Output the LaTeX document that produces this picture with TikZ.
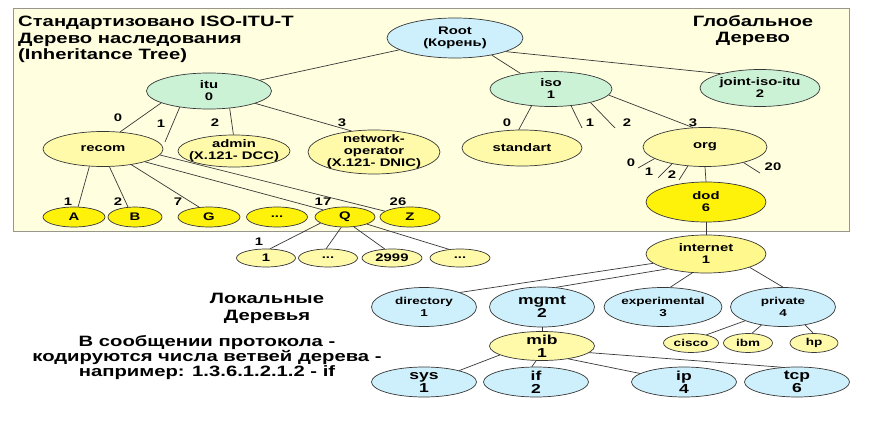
\documentclass[tikz,border=0pt]{standalone}
\usepackage{fontspec}
\setmainfont{Liberation Sans}[FakeStretch=1.35]
\usetikzlibrary{shapes.geometric}
\definecolor{boxcolor}{RGB}{255,255,224}
\definecolor{boxborder}{RGB}{150,150,140}
\definecolor{cyancolor}{RGB}{206,240,252}
\definecolor{mintcolor}{RGB}{204,242,214}
\definecolor{palecolor}{RGB}{255,250,170}
\definecolor{netcolor}{RGB}{255,248,140}
\definecolor{goldcolor}{RGB}{255,242,10}
\definecolor{linecolor}{RGB}{55,55,55}

\begin{document}
\begin{tikzpicture}[x=1pt, y=-1pt,
    % OID nodes - ellipses of fixed size, text as centre label
    oid/.style={ellipse, draw=linecolor, line width=0.7pt, inner sep=0pt},
    dims/.style 2 args={minimum width=#1pt, minimum height=#2pt},
    every label/.style={align=center, inner sep=0pt, font=\bfseries\fontsize{11}{12}\selectfont},
    txtsmall/.style={font=\bfseries\fontsize{10}{11.5}\selectfont},
    txtbig/.style={font=\bfseries\fontsize{13}{13}\selectfont},
    % branch numbers
    num/.style={font=\bfseries\fontsize{11}{12}\selectfont, inner sep=0pt},
    % connectors
    link/.style={draw=linecolor, line width=0.7pt},
    % free text
    caption/.style={font=\bfseries\fontsize{15}{16.5}\selectfont, inner sep=0pt}
]

\fill[white] (0,0) rectangle (873,422);
\useasboundingbox (0,0) rectangle (873,422);

% ===== STANDARD TREE FRAME =====
\draw[draw=boxborder, line width=1pt, fill=boxcolor] (13,9) rectangle (849,232);

\node[caption, anchor=north west, align=left] (title) at (18,16) {
    Стандартизовано ISO-ITU-T\\
    Дерево наследования\\
    (Inheritance Tree)
};
\node[caption, anchor=north, align=center] (global) at (753,15) {
    Глобальное\\
    Дерево
};

% ===== TOP LEVEL =====
\node[oid, fill=cyancolor, dims={136}{40}, label={center:{Root\\(Корень)}}] (root) at (455,38) {};
\node[oid, fill=mintcolor, dims={125}{36}, label={center:{itu\\0}}] (itu) at (209,91) {};
\node[oid, fill=mintcolor, dims={122}{35}, label={center:{iso\\1}}] (iso) at (551,89) {};
\node[oid, fill=mintcolor, dims={120}{37}, label={center:{joint-iso-itu\\2}}] (joint) at (760,88) {};

\draw[link] (root.192) -- (itu.12);
\draw[link] (root.335) -- (iso.153);
\draw[link] (root.345) -- (joint.160);

% ===== ITU BRANCH =====
\node[oid, fill=palecolor, dims={120}{35}, label={center:recom}] (recom) at (103,149) {};
\node[oid, fill=palecolor, dims={112}{32}, label={center:{admin\\(X.121- DCC)}}] (admin) at (234,151) {};
\node[oid, fill=palecolor, dims={132}{44}, label={center:{network-\\operator\\(X.121- DNIC)}}] (netop) at (374,152) {};
\coordinate (itu-s1) at (165,142);

\draw[link] (itu.194) -- (recom.45);
\draw[link] (itu.209) -- (itu-s1);
\draw[link] (itu.320) -- (admin.92);
\draw[link] (itu.345) -- (netop.137);

\node[num] (n-itu-0) at (118,118) {0};
\node[num] (n-itu-1) at (161,124) {1};
\node[num] (n-itu-2) at (215,123) {2};
\node[num] (n-itu-3) at (342,123) {3};

% recom leaves
\node[oid, fill=goldcolor, dims={62}{20}, label={center:A}] (A) at (74,217) {};
\node[oid, fill=goldcolor, dims={54}{20}, label={center:B}] (B) at (135,217) {};
\node[oid, fill=goldcolor, dims={62}{20}, label={center:G}] (G) at (209,217) {};
\node[oid, fill=goldcolor, dims={61}{20}, label={center:...}] (gap) at (277,217) {};
\node[oid, fill=goldcolor, dims={60}{20}, label={center:Q}] (Q) at (345,217) {};
\node[oid, fill=goldcolor, dims={60}{20}, label={center:Z}] (Z) at (410,217) {};

\draw[link] (recom.232) -- (A.68);
\draw[link] (recom.290) -- (B.125);
\draw[link] (recom.331) -- (G.135);
\draw[link] (recom.343) -- (Q.162);
\draw[link] (recom.354) -- (Z.167);

\node[num] (n-rec-1) at (68,202) {1};
\node[num] (n-rec-2) at (118,202) {2};
\node[num] (n-rec-7) at (178,202) {7};
\node[num] (n-rec-17) at (323,202) {17};
\node[num] (n-rec-26) at (398,202) {26};

% Q leaves
\node[oid, fill=palecolor, dims={59}{18}, label={center:1}] (q1) at (266,258) {};
\node[oid, fill=palecolor, dims={59}{18}, label={center:...}] (qgap) at (328,258) {};
\node[oid, fill=palecolor, dims={60}{18}, label={center:2999}] (q2999) at (392,258) {};
\node[oid, fill=palecolor, dims={60}{18}, label={center:...}] (qmore) at (460,258) {};

\draw[link] (Q.194) -- (q1.66);
\draw[link] (Q.250) -- (qgap.101);
\draw[link] (Q.312) -- (q2999.129);
\draw[link] (Q.342) -- (qmore.142);

\node[num] (n-q-1) at (259,242) {1};

% ===== ISO BRANCH =====
\node[oid, fill=palecolor, dims={120}{36}, label={center:standart}] (standart) at (522,148) {};
\node[oid, fill=palecolor, dims={124}{39}, label={center:org}] (org) at (705,147) {};
\coordinate (iso-s1) at (582,128);
\coordinate (iso-s2) at (615,128);

\draw[link] (iso.221) -- (standart.100);
\draw[link] (iso.320) -- (iso-s1);
\draw[link] (iso.341) -- (iso-s2);
\draw[link] (iso.354) -- (org.122);

\node[num] (n-iso-0) at (507,123) {0};
\node[num] (n-iso-1) at (590,123) {1};
\node[num] (n-iso-2) at (627,123) {2};
\node[num] (n-iso-3) at (693,123) {3};

% org
\node[oid, fill=goldcolor, dims={120}{40}, label={center:{dod\\6}}] (dod) at (706,202) {};
\coordinate (org-s0) at (638,168);
\coordinate (org-s1) at (658,178);
\coordinate (org-s2) at (679,180);
\coordinate (org-s20) at (760,173);

\draw[link] (org.193) -- (org-s0);
\draw[link] (org.207) -- (org-s1);
\draw[link] (org.228) -- (org-s2);
\draw[link] (org.338) -- (org-s20);
\draw[link] (org.south) -- (dod.north);

\node[num] (n-org-0) at (631,163) {0};
\node[num] (n-org-1) at (649,172) {1};
\node[num] (n-org-2) at (672,175) {2};
\node[num] (n-org-20) at (773,167) {20};

% ===== LOCAL TREE (INTERNET) =====
\node[oid, fill=netcolor, dims={120}{38}, label={center:{internet\\1}}] (internet) at (706,254) {};
\draw[link] (dod.south) -- (internet.north);

\node[oid, fill=cyancolor, dims={105}{39}, label={[txtsmall]center:{directory\\1}}] (directory) at (424,307) {};
\node[oid, fill=cyancolor, dims={105}{40}, label={[txtbig]center:{mgmt\\2}}] (mgmt) at (542,307) {};
\node[oid, fill=cyancolor, dims={118}{39}, label={[txtsmall]center:{experimental\\3}}] (experimental) at (663,307) {};
\node[oid, fill=cyancolor, dims={105}{39}, label={[txtsmall]center:{private\\4}}] (private) at (783,307) {};

\draw[link] (internet.190) -- (directory.22);
\draw[link] (internet.201) -- (mgmt.55);
\draw[link] (internet.234) -- (experimental.70);
\draw[link] (internet.343) -- (private.north);

% private
\node[oid, fill=palecolor, dims={55}{19}, label={[txtsmall]center:cisco}] (cisco) at (691,343) {};
\node[oid, fill=palecolor, dims={49}{19}, label={[txtsmall]center:ibm}] (ibm) at (748,343) {};
\node[oid, fill=palecolor, dims={48}{19}, label={[txtsmall]center:hp}] (hp) at (814,343) {};

\draw[link] (private.200) -- (cisco.28);
\draw[link] (private.220) -- (ibm.68);
\draw[link] (private.321) -- (hp.95);

% mgmt / mib
\node[oid, fill=palecolor, dims={105}{29}, label={[txtbig]center:{mib\\1}}] (mib) at (542,346) {};
\draw[link] (mgmt.south) -- (mib.north);

\node[oid, fill=cyancolor, dims={105}{30}, label={[txtbig]center:{sys\\1}}] (sys) at (424,382) {};
\node[oid, fill=cyancolor, dims={105}{30}, label={[txtbig]center:{if\\2}}] (iface) at (536,382) {};
\node[oid, fill=cyancolor, dims={105}{30}, label={[txtbig]center:{ip\\4}}] (ip) at (684,382) {};
\node[oid, fill=cyancolor, dims={105}{30}, label={[txtbig]center:{tcp\\6}}] (tcp) at (797,382) {};

\draw[link] (mib.192) -- (sys.18);
\draw[link] (mib.248) -- (iface.105);
\draw[link] (mib.334) -- (ip.169);
\draw[link] (mib.352) -- (tcp.135);

% ===== NOTES =====
\node[caption, anchor=north, align=center] (local) at (267,293) {
    Локальные\\
    Деревья
};
\node[caption, anchor=north, align=center, font=\bfseries\fontsize{15}{15}\selectfont] (note) at (207,335) {
    В сообщении протокола -\\
    кодируются числа ветвей дерева -\\
    например: 1.3.6.1.2.1.2 - if
};

\end{tikzpicture}
\end{document}
